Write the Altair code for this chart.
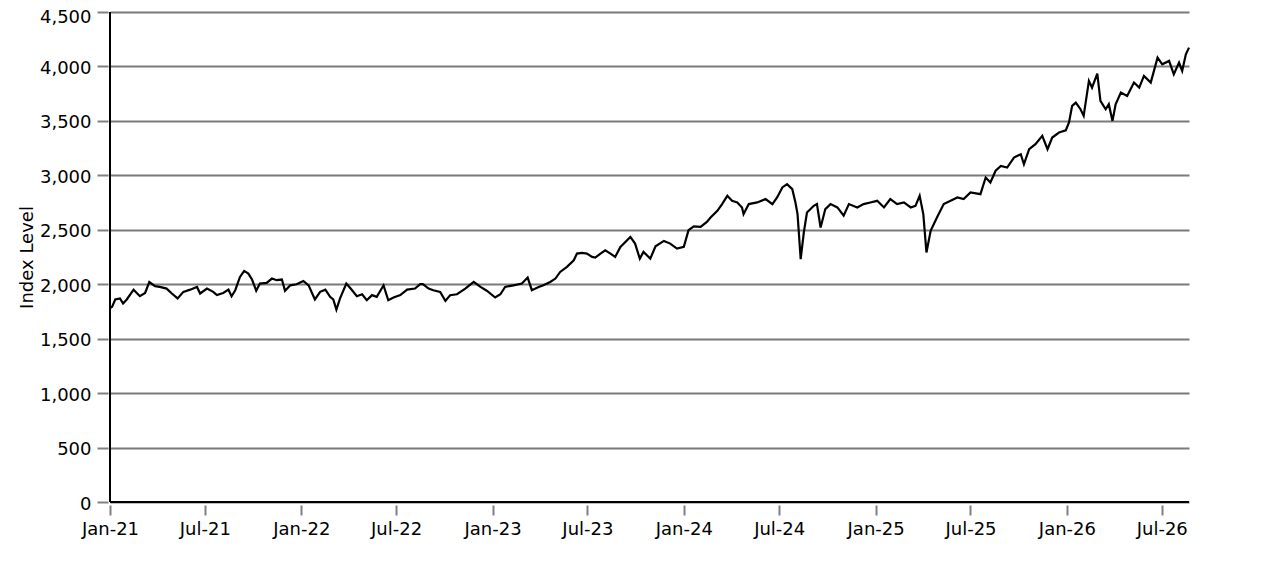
import altair as alt
import pandas as pd

# index readings, roughly every 10 days
dates = [
    "2021-01-01", "2021-01-05", "2021-01-11", "2021-01-20", "2021-01-26", "2021-02-02",
    "2021-02-15", "2021-02-27", "2021-03-09", "2021-03-17", "2021-03-28", "2021-04-06",
    "2021-04-19", "2021-04-29", "2021-05-10", "2021-05-21", "2021-06-03", "2021-06-16",
    "2021-06-22", "2021-07-05", "2021-07-17", "2021-07-24", "2021-08-05", "2021-08-15",
    "2021-08-21", "2021-08-28", "2021-09-06", "2021-09-14", "2021-09-22", "2021-09-29",
    "2021-10-07", "2021-10-14", "2021-10-27", "2021-11-06", "2021-11-15", "2021-11-25",
    "2021-12-01", "2021-12-11", "2021-12-23", "2022-01-05", "2022-01-15", "2022-01-27",
    "2022-02-06", "2022-02-16", "2022-02-25", "2022-03-03", "2022-03-09", "2022-03-16",
    "2022-03-28", "2022-04-08", "2022-04-17", "2022-04-27", "2022-05-06", "2022-05-16",
    "2022-05-25", "2022-06-07", "2022-06-16", "2022-06-26", "2022-07-09", "2022-07-22",
    "2022-08-06", "2022-08-16", "2022-08-21", "2022-09-01", "2022-09-10", "2022-09-23",
    "2022-10-03", "2022-10-12", "2022-10-25", "2022-11-10", "2022-11-26", "2022-12-09",
    "2022-12-21", "2023-01-06", "2023-01-16", "2023-01-25", "2023-02-10", "2023-02-26",
    "2023-03-09", "2023-03-17", "2023-03-30", "2023-04-08", "2023-04-21", "2023-05-01",
    "2023-05-10", "2023-05-23", "2023-06-05", "2023-06-11", "2023-06-21", "2023-06-30",
    "2023-07-10", "2023-07-16", "2023-07-26", "2023-08-04", "2023-08-14", "2023-08-23",
    "2023-09-02", "2023-09-21", "2023-09-30", "2023-10-09", "2023-10-16", "2023-10-29",
    "2023-11-08", "2023-11-24", "2023-12-06", "2023-12-19", "2024-01-01", "2024-01-10",
    "2024-01-20", "2024-02-02", "2024-02-14", "2024-02-21", "2024-03-05", "2024-03-14",
    "2024-03-24", "2024-04-02", "2024-04-12", "2024-04-21", "2024-04-24", "2024-05-04",
    "2024-05-20", "2024-06-05", "2024-06-18", "2024-06-27", "2024-07-07", "2024-07-16",
    "2024-07-26", "2024-08-01", "2024-08-05", "2024-08-11", "2024-08-17", "2024-08-23",
    "2024-09-05", "2024-09-11", "2024-09-18", "2024-09-27", "2024-10-07", "2024-10-20",
    "2024-11-01", "2024-11-11", "2024-11-27", "2024-12-09", "2024-12-22", "2025-01-04",
    "2025-01-17", "2025-01-29", "2025-02-11", "2025-02-24", "2025-03-09", "2025-03-18",
    "2025-03-26", "2025-04-02", "2025-04-08", "2025-04-16", "2025-04-28", "2025-05-11",
    "2025-05-24", "2025-06-06", "2025-06-18", "2025-07-01", "2025-07-20", "2025-07-30",
    "2025-08-08", "2025-08-18", "2025-08-28", "2025-09-09", "2025-09-22", "2025-10-05",
    "2025-10-11", "2025-10-21", "2025-11-02", "2025-11-15", "2025-11-25", "2025-12-04",
    "2025-12-17", "2025-12-30", "2026-01-05", "2026-01-11", "2026-01-18", "2026-01-27",
    "2026-02-02", "2026-02-12", "2026-02-18", "2026-02-28", "2026-03-06", "2026-03-16",
    "2026-03-22", "2026-03-29", "2026-04-04", "2026-04-14", "2026-04-26", "2026-05-09",
    "2026-05-19", "2026-05-28", "2026-06-10", "2026-06-23", "2026-07-02", "2026-07-15",
    "2026-07-24", "2026-08-03", "2026-08-09", "2026-08-16", "2026-08-22",
]
levels = [
    1780, 1792, 1860, 1870, 1823, 1860,
    1950, 1890, 1920, 2020, 1982, 1975,
    1960, 1915, 1870, 1930, 1950, 1975,
    1915, 1960, 1930, 1900, 1920, 1950,
    1890, 1945, 2067, 2122, 2098, 2043,
    1940, 2006, 2012, 2052, 2037, 2043,
    1940, 1990, 2000, 2030, 1990, 1860,
    1930, 1950, 1884, 1860, 1767, 1870,
    2006, 1945, 1890, 1908, 1853, 1900,
    1884, 1990, 1853, 1878, 1900, 1950,
    1960, 2000, 2000, 1960, 1945, 1930,
    1847, 1899, 1908, 1960, 2021, 1975,
    1940, 1878, 1908, 1975, 1990, 2006,
    2061, 1945, 1975, 1990, 2021, 2052,
    2113, 2159, 2220, 2281, 2288, 2281,
    2251, 2245, 2281, 2312, 2281, 2251,
    2343, 2435, 2373, 2235, 2297, 2235,
    2349, 2398, 2373, 2327, 2343, 2496,
    2532, 2526, 2572, 2613, 2674, 2736,
    2812, 2766, 2751, 2705, 2644, 2736,
    2751, 2782, 2736, 2797, 2889, 2919,
    2873, 2751, 2644, 2231, 2476, 2659,
    2720, 2736, 2521, 2690, 2736, 2705,
    2629, 2736, 2705, 2736, 2751, 2766,
    2705, 2782, 2736, 2751, 2705, 2720,
    2812, 2644, 2292, 2491, 2613, 2736,
    2766, 2797, 2782, 2843, 2827, 2980,
    2934, 3042, 3087, 3071, 3163, 3194,
    3102, 3240, 3286, 3362, 3240, 3347,
    3393, 3414, 3485, 3638, 3668, 3607,
    3546, 3867, 3806, 3934, 3684, 3607,
    3653, 3500, 3653, 3760, 3729, 3852,
    3806, 3913, 3852, 4081, 4020, 4051,
    3928, 4035, 3959, 4112, 4173,
]
y_ticks = [0, 500, 1000, 1500, 2000, 2500, 3000, 3500, 4000, 4500]
x_start, x_end = "2021-01-01", "2026-08-22"

df = pd.DataFrame({"date": pd.to_datetime(dates), "level": levels})

font = "DejaVu Sans"
x_scale = alt.Scale(domain=[x_start, x_end], nice=False)
y_scale = alt.Scale(domain=[0, 4500], nice=False)

line = (
    alt.Chart(df)
    .mark_line(color="#000000", strokeWidth=2.2)
    .encode(
        x=alt.X(
            "date:T",
            title=None,
            scale=x_scale,
            axis=alt.Axis(
                format="%b-%y",
                tickCount={"interval": "month", "step": 6},
                grid=False,
                domain=False,
                offset=3,
                tickColor="#808080",
                tickWidth=2,
                tickSize=10,
                labelAlign="center",
                labelFlush=False,
                labelPadding=5,
                labelFont=font,
                labelFontSize=18,
                labelColor="#000000",
            ),
        ),
        y=alt.Y(
            "level:Q",
            title="Index Level",
            scale=y_scale,
            axis=alt.Axis(
                values=y_ticks,
                format=",d",
                grid=True,
                gridColor="#7a7a7a",
                gridWidth=2,
                domain=False,
                offset=2,
                tickColor="#808080",
                tickWidth=2,
                tickSize=11,
                labelPadding=6,
                # top label sits a little lower so it stays inside the page
                labelOffset={"condition": {"test": "datum.value == 4500", "value": 5}, "value": 2},
                labelFont=font,
                labelFontSize=18,
                labelColor="#000000",
                labelFlush=False,
                titlePadding=3,
                titleFont=font,
                titleFontSize=18,
                titleFontWeight="normal",
                titleColor="#000000",
            ),
        ),
    )
)

# black axis lines along the bottom and left edges of the plot
base_line = alt.Chart().mark_rule(color="#000000", strokeWidth=2).encode(y=alt.datum(0, scale=y_scale))
left_line = alt.Chart().mark_rule(color="#000000", strokeWidth=2).encode(
    x=alt.datum(alt.DateTime(year=2021, month=1, date=1), type="temporal")
)

chart = (
    alt.layer(line, base_line, left_line)
    .properties(
        width=1079,
        height=490,
        autosize=alt.AutoSizeParams(type="none"),
        padding={"left": 102, "top": 4, "right": 40, "bottom": 50},
    )
    .configure_view(stroke=None)
)

chart.save("out.html", embed_options={"renderer": "svg", "actions": False})
